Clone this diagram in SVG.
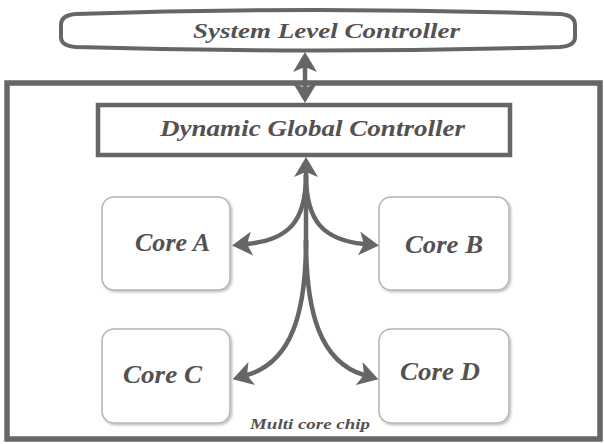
<svg xmlns="http://www.w3.org/2000/svg" width="604" height="444" viewBox="0 0 604 444">
  <style>
    text { font-family: 'Liberation Serif', serif; font-weight: 700; font-style: italic; fill: #555151; }
    .frame { fill: #ffffff; stroke: #666666; }
    .core { fill: #ffffff; stroke: #b4b4b4; stroke-width: 1.5; }
    .link { fill: none; stroke: #666666; stroke-width: 4.5; }
  </style>
  <defs>
    <marker id="head" viewBox="0 0 20 24" markerWidth="20" markerHeight="24" refX="5" refY="12" orient="auto-start-reverse" markerUnits="userSpaceOnUse">
      <path d="M0,0 L20,12 L0,24 L5,12 Z" fill="#666666"/>
    </marker>
    <filter id="shade" x="-10%" y="-10%" width="125%" height="125%">
      <feDropShadow dx="1.5" dy="1.5" stdDeviation="1" flood-color="#000000" flood-opacity="0.25"/>
    </filter>
  </defs>

  <rect width="604" height="444" fill="#ffffff"/>

  <!-- chip outline -->
  <g id="chip">
    <rect class="frame" x="7" y="83" width="593" height="356" stroke-width="5.5"/>
    <text x="310" y="429" font-size="15" text-anchor="middle" textLength="120" lengthAdjust="spacingAndGlyphs">Multi core chip</text>
  </g>

  <!-- top-level controller (pill outline) -->
  <g id="system-controller">
    <path class="frame" stroke-width="4" d="M76,14 Q318,6 560,14 Q575,15 575,25 L575,37 Q575,46 560,47 Q318,54 76,47 Q61,46 61,37 L61,25 Q61,15 76,14 Z"/>
    <text x="326.5" y="38" font-size="21" text-anchor="middle" textLength="267" lengthAdjust="spacingAndGlyphs">System Level Controller</text>
  </g>

  <g id="global-controller">
    <rect class="frame" x="98" y="105" width="412" height="50" stroke-width="4.5"/>
    <text x="312.5" y="136" font-size="24" text-anchor="middle" textLength="305" lengthAdjust="spacingAndGlyphs">Dynamic Global Controller</text>
  </g>

  <g id="core-a">
    <rect class="core" x="102" y="197" width="128" height="93" rx="12" filter="url(#shade)"/>
    <text x="135" y="251" font-size="25" textLength="75" lengthAdjust="spacingAndGlyphs">Core A</text>
  </g>
  <g id="core-b">
    <rect class="core" x="379" y="197" width="130" height="93" rx="12" filter="url(#shade)"/>
    <text x="405" y="253" font-size="25" textLength="78" lengthAdjust="spacingAndGlyphs">Core B</text>
  </g>
  <g id="core-c">
    <rect class="core" x="102" y="329" width="128" height="94" rx="12" filter="url(#shade)"/>
    <text x="123" y="383" font-size="25" textLength="79" lengthAdjust="spacingAndGlyphs">Core C</text>
  </g>
  <g id="core-d">
    <rect class="core" x="379" y="329" width="130" height="94" rx="12" filter="url(#shade)"/>
    <text x="400" y="380" font-size="25" textLength="80" lengthAdjust="spacingAndGlyphs">Core D</text>
  </g>

  <!-- connectors -->
  <g id="connectors">
    <path class="link" d="M305,67 L305,88" marker-start="url(#head)" marker-end="url(#head)"/>
    <path class="link" d="M306,250 L306,172" marker-end="url(#head)"/>
    <path class="link" d="M306,175 C306,222 288,240 247,244" marker-end="url(#head)"/>
    <path class="link" d="M306,175 C306,222 324,240 364,244" marker-end="url(#head)"/>
    <path class="link" d="M306,240 C306,312 292,362 247,375" marker-end="url(#head)"/>
    <path class="link" d="M306,240 C306,312 320,362 364,375" marker-end="url(#head)"/>
  </g>
</svg>
